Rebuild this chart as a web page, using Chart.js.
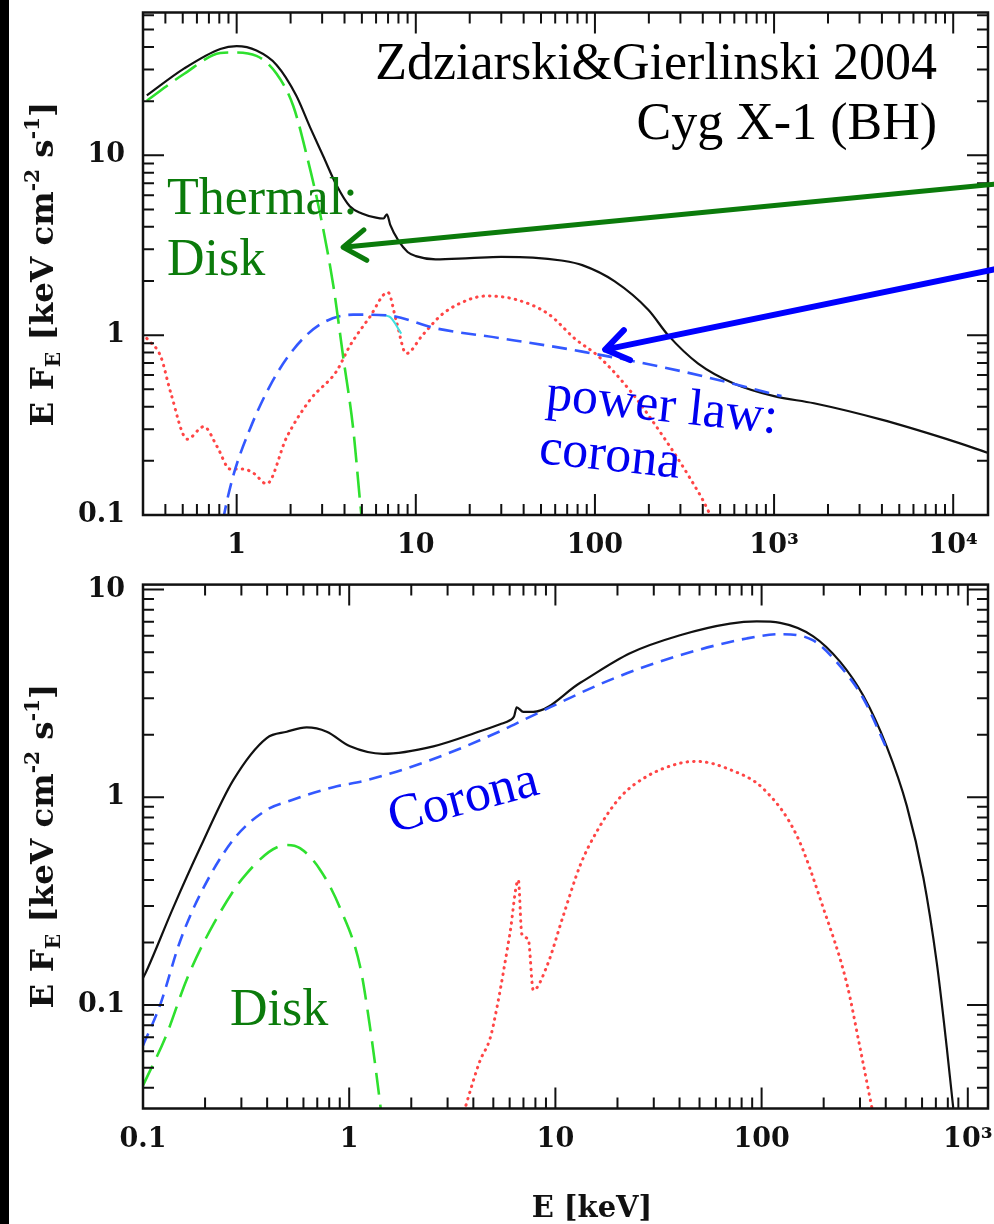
<!DOCTYPE html>
<html>
<head>
<meta charset="utf-8">
<script src="https://cdn.jsdelivr.net/npm/chart.js@4.4.1/dist/chart.umd.min.js"></script>
<style>
  html, body { margin: 0; padding: 0; background: #fff; }
  body { width: 994px; height: 1224px; position: relative; overflow: hidden; }
  .panel { position: absolute; left: 0; }
  #topPanel { top: 0; }
  #botPanel { top: 570px; }
  #edge { position: absolute; left: 0; top: 0; width: 9px; height: 1224px; background: #000; z-index: 5; }
</style>
</head>
<body>
<div class="panel" id="topPanel"><canvas id="topChart" width="994" height="570"></canvas></div>
<div class="panel" id="botPanel"><canvas id="botChart" width="994" height="654"></canvas></div>
<div id="edge"></div>
<script>
// ---- top panel: Cyg X-1 soft state (E in keV, E F_E in keV cm^-2 s^-1)
const topTotalE = [0.315, 0.51, 0.81, 1.0, 1.29, 1.67, 2.15, 2.57, 3.04, 3.6, 4.28, 5.0, 6.0, 6.6, 6.9, 7.2, 8.0, 9.0, 10, 12.9, 20, 30, 45, 65, 85, 129, 199, 256, 377, 600, 1000, 1670, 3930, 9230, 16000];
const topTotalF = [21.5, 30.4, 39, 40.4, 38.2, 31.8, 21.5, 14.3, 9.9, 6.85, 5.2, 4.75, 4.5, 4.45, 4.7, 4.1, 3.35, 2.9, 2.75, 2.64, 2.68, 2.72, 2.7, 2.6, 2.45, 1.99, 1.38, 1.0, 0.695, 0.537, 0.458, 0.418, 0.34, 0.264, 0.22];

const topDiskE = [0.315, 0.51, 0.81, 0.95, 1.29, 1.67, 2.07, 2.46, 2.92, 3.46, 3.93, 4.47, 4.97, 5.4];
const topDiskF = [20.1, 28.4, 37.0, 37.3, 35.7, 28.4, 18.8, 10.0, 4.76, 1.9, 0.76, 0.303, 0.1, 0.05];

const topPowE = [0.8, 0.85, 0.96, 1.19, 1.54, 2.07, 2.92, 4.47, 6.84, 13, 30, 85, 304, 1100];
const topPowF = [0.07, 0.1, 0.167, 0.303, 0.526, 0.83, 1.146, 1.30, 1.29, 1.09, 0.96, 0.81, 0.63, 0.458];

const topReflE = [0.315, 0.377, 0.428, 0.53, 0.656, 0.778, 0.92, 1.09, 1.25, 1.47, 1.9, 2.57, 3.61, 4.28, 5.53, 6.99, 7.78, 8.84, 10.9, 14.1, 19.9, 24.6, 36, 55, 77.8, 105, 160, 246, 331, 428, 480];
const topReflF = [0.96, 0.76, 0.48, 0.264, 0.31, 0.24, 0.18, 0.18, 0.17, 0.149, 0.27, 0.437, 0.63, 0.87, 1.26, 1.73, 1.2, 0.79, 1.0, 1.31, 1.58, 1.65, 1.58, 1.31, 0.95, 0.76, 0.48, 0.264, 0.167, 0.106, 0.08];

const topLineE = [6.3, 7.1, 8.3];
const topLineF = [1.29, 1.27, 1.02];

const topXTicks = [1, 10, 100, 1000, 10000];
const topXLabels = ['1', '10', '100', '10³', '10⁴'];
const topYTicks = [0.1, 1, 10];
const topYLabels = ['0.1', '1', '10'];

// ---- bottom panel: hard state
const botTotalE = [0.1, 0.103, 0.14, 0.189, 0.274, 0.398, 0.498, 0.622, 0.778, 1.01, 1.46, 2.56, 4.31, 5.39, 6.02, 6.3, 6.49, 6.99, 7.81, 13.2, 23, 40.2, 70.3, 94.7, 123, 178, 240, 311, 404, 506, 609, 707, 790, 851, 900];
const botTotalF = [0.135, 0.143, 0.294, 0.57, 1.21, 1.93, 2.07, 2.17, 2.07, 1.76, 1.62, 1.76, 2.08, 2.25, 2.35, 2.45, 2.71, 2.58, 2.58, 3.56, 4.94, 6.03, 6.86, 7.03, 6.92, 5.96, 4.5, 3.09, 1.76, 0.91, 0.41, 0.16, 0.063, 0.0317, 0.02];

const botPowE = [0.1, 0.121, 0.151, 0.189, 0.274, 0.398, 0.516, 0.837, 1.22, 2.56, 5.39, 7.53, 19.1, 40.2, 84.7, 123, 178, 240, 311, 404];
const botPowF = [0.064, 0.1, 0.202, 0.34, 0.625, 0.87, 0.963, 1.12, 1.21, 1.53, 2.08, 2.44, 3.73, 4.83, 5.82, 6.1, 5.69, 4.29, 3.0, 1.72];

const botDiskE = [0.1, 0.13, 0.163, 0.219, 0.318, 0.498, 0.577, 0.721, 0.902, 1.13, 1.26, 1.41, 1.5];
const botDiskF = [0.041, 0.072, 0.133, 0.244, 0.43, 0.59, 0.57, 0.45, 0.294, 0.153, 0.079, 0.034, 0.02];

const botReflE = [3.4, 3.65, 4.31, 4.82, 5.19, 6.02, 6.61, 6.87, 7.39, 7.81, 9.07, 10.9, 13.2, 15.9, 20.6, 27.7, 40.2, 48.4, 70.3, 102, 148, 199, 259, 300, 342, 360];
const botReflF = [0.025, 0.032, 0.054, 0.069, 0.096, 0.222, 0.40, 0.22, 0.207, 0.118, 0.153, 0.268, 0.472, 0.687, 1.0, 1.26, 1.46, 1.49, 1.36, 1.1, 0.656, 0.294, 0.127, 0.0625, 0.0324, 0.025];

const botXTicks = [0.1, 1, 10, 100, 1000];
const botXLabels = ['0.1', '1', '10', '100', '10³'];
const botYTicks = [0.1, 1, 10];
const botYLabels = ['0.1', '1', '10'];

const BLACK = '#111';
const GREEN = '#2ee02e';
const BLUE = '#3358ff';
const RED = '#ff4545';
const CYAN = '#40e0e0';
const NOTE_GREEN = '#0b7b0b';
const NOTE_BLUE = '#0000f0';
const TICK_FONT = { family: 'DejaVu Serif', size: 27, weight: 'bold' };

function series(xs, ys) {
  return xs.map((x, i) => ({ x, y: ys[i] }));
}

function isDecade(v) {
  const l = Math.log10(v);
  return Math.abs(l - Math.round(l)) < 1e-6;
}

function logTicks(min, max) {
  const out = [];
  for (let p = Math.floor(Math.log10(min)); p <= Math.ceil(Math.log10(max)); p++) {
    for (let m = 1; m < 10; m++) {
      const v = m * Math.pow(10, p);
      if (v >= min * 0.999 && v <= max * 1.001) out.push({ value: v });
    }
  }
  return out;
}

function logAxis(min, max, majors, labels, size, padding) {
  return {
    type: 'logarithmic',
    min, max,
    afterBuildTicks: s => { s.ticks = logTicks(min, max); },
    afterFit: s => {
      // pin the plot box: fixed axis band, no label overhang padding
      if (s.isHorizontal()) s.height = size; else s.width = size;
      s.paddingTop = s.paddingBottom = s.paddingLeft = s.paddingRight = 0;
    },
    grid: { display: false, drawTicks: false },
    border: { display: false },
    ticks: {
      autoSkip: false, maxRotation: 0, minRotation: 0, padding,
      color: BLACK, font: TICK_FONT,
      callback: v => {
        const i = majors.findIndex(m => Math.abs(m - v) / m < 1e-6);
        return i >= 0 ? labels[i] : '';
      },
    },
  };
}

function line(label, xs, ys, color, dash, width, order, extra) {
  return Object.assign({
    label, data: series(xs, ys),
    borderColor: color, borderWidth: width, borderDash: dash,
    pointRadius: 0, fill: false, order,
    cubicInterpolationMode: 'monotone',
  }, extra || {});
}

// frame with inward ticks on all four sides
const frameTicks = {
  id: 'frameTicks',
  afterDatasetsDraw(chart) {
    const { ctx, chartArea: a, scales } = chart;
    ctx.save();
    ctx.strokeStyle = BLACK;
    ctx.lineWidth = 2;
    ctx.beginPath();
    for (const t of scales.x.ticks) {
      const px = scales.x.getPixelForValue(t.value);
      const len = isDecade(t.value) ? 21 : 11;
      ctx.moveTo(px, a.bottom); ctx.lineTo(px, a.bottom - len);
      ctx.moveTo(px, a.top); ctx.lineTo(px, a.top + len);
    }
    for (const t of scales.y.ticks) {
      const py = scales.y.getPixelForValue(t.value);
      const len = isDecade(t.value) ? 21 : 11;
      ctx.moveTo(a.left, py); ctx.lineTo(a.left + len, py);
      ctx.moveTo(a.right, py); ctx.lineTo(a.right - len, py);
    }
    ctx.stroke();
    ctx.lineWidth = 2.5;
    ctx.strokeRect(a.left, a.top, a.right - a.left, a.bottom - a.top);
    ctx.restore();
  },
};

function drawRich(ctx, parts, size, family, target) {
  const fontFor = (p, s) => 'bold ' + (p.sub || p.sup ? s * 0.62 : s) + 'px ' + family;
  const widthAt = s => parts.reduce((sum, p) => { ctx.font = fontFor(p, s); return sum + ctx.measureText(p.t).width; }, 0);
  const s = size * target / widthAt(size);
  let x = -widthAt(s) / 2;
  for (const p of parts) {
    ctx.font = fontFor(p, s);
    const dy = p.sub ? s * 0.22 : p.sup ? -s * 0.42 : 0;
    ctx.fillText(p.t, x, dy);
    x += ctx.measureText(p.t).width;
  }
}

const yTitleParts = [
  { t: 'E F' }, { t: 'E', sub: true }, { t: ' [keV cm' }, { t: '-2', sup: true },
  { t: ' s' }, { t: '-1', sup: true }, { t: ']' },
];

function notesPlugin(id, notes, arrows, titleY, xTitle) {
  return {
    id,
    afterDraw(chart) {
      const { ctx, scales } = chart;
      ctx.save();
      // y axis title
      ctx.fillStyle = BLACK;
      ctx.textBaseline = 'alphabetic';
      ctx.textAlign = 'left';
      ctx.translate(41, titleY);
      ctx.rotate(-Math.PI / 2);
      ctx.translate(0, 12);
      drawRich(ctx, yTitleParts, 28, "'DejaVu Serif'", 325);
      ctx.restore();

      if (xTitle) {
        ctx.save();
        ctx.fillStyle = BLACK;
        ctx.font = "bold 29px 'DejaVu Serif'";
        ctx.textAlign = 'center';
        ctx.textBaseline = 'alphabetic';
        ctx.fillText(xTitle.text, xTitle.x, xTitle.y);
        ctx.restore();
      }

      for (const ar of arrows) {
        const x1 = scales.x.getPixelForValue(ar.from[0]), y1 = scales.y.getPixelForValue(ar.from[1]);
        const x2 = scales.x.getPixelForValue(ar.to[0]), y2 = scales.y.getPixelForValue(ar.to[1]);
        const ang = Math.atan2(y1 - y2, x1 - x2);
        ctx.save();
        ctx.strokeStyle = ar.color;
        ctx.lineWidth = ar.width;
        ctx.lineCap = 'round';
        ctx.lineJoin = 'round';
        ctx.beginPath();
        ctx.moveTo(x1, y1); ctx.lineTo(x2, y2);
        ctx.moveTo(x2 + 27 * Math.cos(ang - 0.6), y2 + 27 * Math.sin(ang - 0.6));
        ctx.lineTo(x2, y2);
        ctx.lineTo(x2 + 27 * Math.cos(ang + 0.6), y2 + 27 * Math.sin(ang + 0.6));
        ctx.stroke();
        ctx.restore();
      }

      for (const n of notes) {
        ctx.save();
        ctx.fillStyle = n.color;
        ctx.font = "52px 'Liberation Serif'";
        ctx.textAlign = n.align || 'left';
        ctx.textBaseline = 'alphabetic';
        ctx.translate(n.x, n.y);
        ctx.rotate((n.angle || 0) * Math.PI / 180);
        ctx.fillText(n.text, 0, 0);
        ctx.restore();
      }
    },
  };
}

function baseOptions(xAxis, yAxis, padTop) {
  return {
    responsive: false,
    animation: false,
    layout: { padding: { left: 0, right: 6, top: padTop, bottom: 0 } },
    plugins: { legend: { display: false }, tooltip: { enabled: false } },
    scales: { x: xAxis, y: yAxis },
  };
}

new Chart(document.getElementById('topChart'), {
  type: 'line',
  data: {
    datasets: [
      line('disk', topDiskE, topDiskF, GREEN, [26, 9], 2.6, 0),
      line('power law', topPowE, topPowF, BLUE, [15, 8], 2.6, 1),
      line('Fe line', topLineE, topLineF, CYAN, [], 2, 2),
      line('total', topTotalE, topTotalF, BLACK, [], 2.2, 3),
      line('reflection', topReflE, topReflF, RED, [0.5, 6], 3, 4, { borderCapStyle: 'round' }),
    ],
  },
  options: baseOptions(
    logAxis(0.316, 15640, topXTicks, topXLabels, 55, 15),
    logAxis(0.1, 62.2, topYTicks, topYLabels, 143, 18),
    12.5
  ),
  plugins: [frameTicks, notesPlugin('topNotes', [
    { text: 'Zdziarski&Gierlinski 2004', x: 937, y: 79, align: 'right', color: '#000' },
    { text: 'Cyg X-1 (BH)', x: 937, y: 139, align: 'right', color: '#000' },
    { text: 'Thermal:', x: 167, y: 214, color: NOTE_GREEN },
    { text: 'Disk', x: 167, y: 275, color: NOTE_GREEN },
    { text: 'power law:', x: 545, y: 409, angle: 6, color: NOTE_BLUE },
    { text: 'corona', x: 538, y: 463, angle: 6, color: NOTE_BLUE },
  ], [
    { from: [16900, 6.91], to: [3.93, 3.08], color: NOTE_GREEN, width: 5 },
    { from: [16900, 2.32], to: [114, 0.831], color: '#0000ff', width: 6 },
  ], 264, null)],
});

new Chart(document.getElementById('botChart'), {
  type: 'line',
  data: {
    datasets: [
      line('disk', botDiskE, botDiskF, GREEN, [22, 10], 2.6, 0),
      line('corona', botPowE, botPowF, BLUE, [13, 8], 2.6, 1),
      line('total', botTotalE, botTotalF, BLACK, [], 2.2, 2),
      line('reflection', botReflE, botReflF, RED, [0.5, 6], 3, 3, { borderCapStyle: 'round' }),
    ],
  },
  options: baseOptions(
    logAxis(0.1, 1253, botXTicks, botXLabels, 115.5, 15),
    logAxis(0.0318, 10.57, botYTicks, botYLabels, 143, 18),
    14.6
  ),
  plugins: [frameTicks, notesPlugin('botNotes', [
    { text: 'Corona', x: 393, y: 263, angle: -14.8, color: NOTE_BLUE },
    { text: 'Disk', x: 230, y: 455, color: NOTE_GREEN },
  ], [], 276, { text: 'E [keV]', x: 592, y: 647 })],
});
</script>
</body>
</html>
